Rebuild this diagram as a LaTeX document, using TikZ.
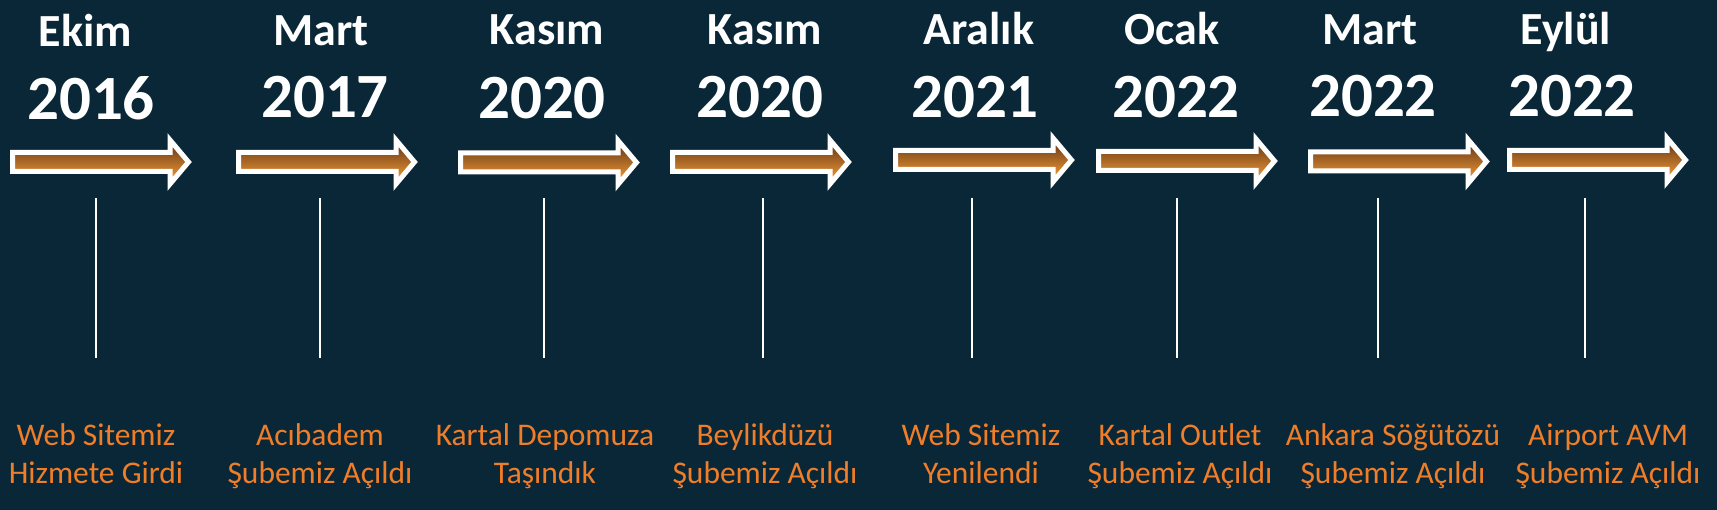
\documentclass[tikz,border=0pt]{standalone}
\usepackage{fontspec}
\setmainfont{Carlito}
\usepackage{xcolor}
\usetikzlibrary{positioning}
\definecolor{bgnavy}{HTML}{0A2737}
\definecolor{eventorange}{HTML}{F07D28}
\definecolor{shaftdark}{HTML}{5A2E12}
\definecolor{shaftmid}{HTML}{E57E22}
\definecolor{shaftlight}{HTML}{FFA53A}

\begin{document}
\begin{tikzpicture}[
        x=1pt, y=-1pt,
        monthlabel/.style={text=white, font=\fontsize{46}{52}\selectfont\bfseries, anchor=base, inner sep=0pt},
        yearlabel/.style={text=white, font=\fontsize{63}{70}\selectfont\bfseries, anchor=base, inner sep=0pt},
        eventtext/.style={text=eventorange, font=\fontsize{31.5}{38}\selectfont, align=center, anchor=base, inner sep=0pt},
        divider/.style={draw=white, line width=1.6pt},
        blockarrow/.pic={
            \path[draw=white, line width=5pt, miter limit=10, top color=shaftdark, middle color=shaftmid, bottom color=shaftlight]
                (2.5,-9.5) -- (160,-9.5) -- (160,-22) -- (178.5,0) -- (160,22) -- (160,9.5) -- (2.5,9.5) -- cycle;
        }
    ]
        % Background
        \fill[bgnavy] (0,0) rectangle (1717,510);
        \useasboundingbox (0,0) rectangle (1717,510);
        % Month layer
        \node[monthlabel] (mon1) at (85.5,47) {Ekim};
        \node[monthlabel] (mon2) at (321,46) {Mart};
        \node[monthlabel] (mon3) at (547,45) {Kasım};
        \node[monthlabel] (mon4) at (765,45) {Kasım};
        \node[monthlabel] (mon5) at (979,45) {Aralık};
        \node[monthlabel] (mon6) at (1172,45) {Ocak};
        \node[monthlabel] (mon7) at (1370,45) {Mart};
        \node[monthlabel] (mon8) at (1566,45) {Eylül};
        % Year layer
        \node[yearlabel] (yr1) at (91,120) {2016};
        \node[yearlabel] (yr2) at (325,118) {2017};
        \node[yearlabel] (yr3) at (542,119) {2020};
        \node[yearlabel] (yr4) at (760,118) {2020};
        \node[yearlabel] (yr5) at (975,118) {2021};
        \node[yearlabel] (yr6) at (1176,118) {2022};
        \node[yearlabel] (yr7) at (1373,117) {2022};
        \node[yearlabel] (yr8) at (1572,117) {2022};
        % Arrow layer
        \pic (arr1) at (10,162) {blockarrow};
        \pic (arr2) at (236,162) {blockarrow};
        \pic (arr3) at (458,162.5) {blockarrow};
        \pic (arr4) at (670,162) {blockarrow};
        \pic (arr5) at (893,160) {blockarrow};
        \pic (arr6) at (1096,161) {blockarrow};
        \pic (arr7) at (1308,161.5) {blockarrow};
        \pic (arr8) at (1507,160) {blockarrow};
        % Event layer
        \node[eventtext] (ev1) at (96,483) {Web Sitemiz\\Hizmete Girdi};
        \node[eventtext] (ev2) at (320,483) {Acıbadem\\Şubemiz Açıldı};
        \node[eventtext] (ev3) at (545,483) {Kartal Depomuza\\Taşındık};
        \node[eventtext] (ev4) at (765,483) {Beylikdüzü\\Şubemiz Açıldı};
        \node[eventtext] (ev5) at (981,483) {Web Sitemiz\\Yenilendi};
        \node[eventtext] (ev6) at (1180,483) {Kartal Outlet\\Şubemiz Açıldı};
        \node[eventtext] (ev7) at (1393,483) {Ankara Söğütözü\\Şubemiz Açıldı};
        \node[eventtext] (ev8) at (1608,483) {Airport AVM\\Şubemiz Açıldı};
        % Divider ends
        \coordinate (top1) at (96,198);    \coordinate (bot1) at (96,358);
        \coordinate (top2) at (320,198);   \coordinate (bot2) at (320,358);
        \coordinate (top3) at (544,198);   \coordinate (bot3) at (544,358);
        \coordinate (top4) at (763,198);   \coordinate (bot4) at (763,358);
        \coordinate (top5) at (972,198);   \coordinate (bot5) at (972,358);
        \coordinate (top6) at (1177,198);  \coordinate (bot6) at (1177,358);
        \coordinate (top7) at (1378,198);  \coordinate (bot7) at (1378,358);
        \coordinate (top8) at (1585,198);  \coordinate (bot8) at (1585,358);
        % Dividers
        \draw[divider] (top1) -- (bot1);
        \draw[divider] (top2) -- (bot2);
        \draw[divider] (top3) -- (bot3);
        \draw[divider] (top4) -- (bot4);
        \draw[divider] (top5) -- (bot5);
        \draw[divider] (top6) -- (bot6);
        \draw[divider] (top7) -- (bot7);
        \draw[divider] (top8) -- (bot8);
    \end{tikzpicture}
\end{document}
